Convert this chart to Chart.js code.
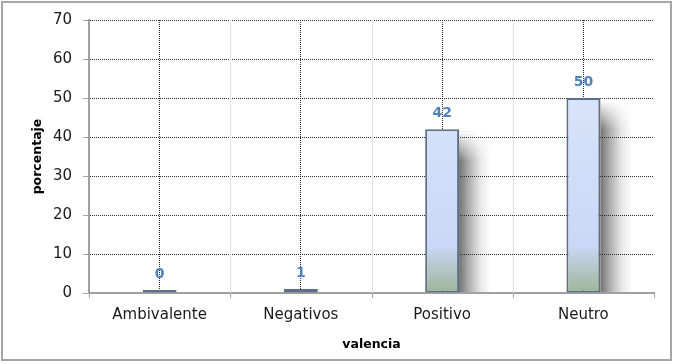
<!DOCTYPE html>
<html>
<head>
<meta charset="utf-8">
<script src="https://cdn.jsdelivr.net/npm/chart.js@4.4.1/dist/chart.umd.min.js"></script>
<style>
  html, body { margin: 0; padding: 0; background: #fff; }
  #wrap { width: 676px; height: 364px; }
</style>
</head>
<body>
<div id="wrap"><canvas id="valencia"></canvas></div>
<script>
// data
const categories = ["Ambivalente", "Negativos", "Positivo", "Neutro"];
const porcentaje = [0.4, 1, 42, 50];
const yTicks = [0, 10, 20, 30, 40, 50, 60, 70];

// frame, bar shadows, boundary lines, bottom tick marks, value labels
const frame = {
    id: 'frame',
    beforeDraw(chart) {
        const ctx = chart.ctx;
        const area = chart.chartArea;
        ctx.save();
        ctx.fillStyle = '#ffffff';
        ctx.fillRect(0, 0, chart.width, chart.height);
        ctx.strokeStyle = '#a6a6a6';
        ctx.lineWidth = 2;
        ctx.strokeRect(2, 2, 669, 358);

        // soft shadow to the right of each bar (under the grid)
        const meta = chart.getDatasetMeta(0);
        meta.data.forEach((bar) => {
            const right = bar.x + bar.width / 2;
            const top = bar.y + 2;
            const h = area.bottom - top;
            if (h < 20) return;
            const w = 32;
            const gx = ctx.createLinearGradient(right, 0, right + w, 0);
            gx.addColorStop(0, 'rgba(0,0,0,0.55)');
            gx.addColorStop(0.3, 'rgba(0,0,0,0.32)');
            gx.addColorStop(0.65, 'rgba(0,0,0,0.1)');
            gx.addColorStop(1, 'rgba(0,0,0,0)');
            ctx.fillStyle = gx;
            ctx.fillRect(right, top, w, h);
            const gy = ctx.createLinearGradient(0, top, 0, top + 30);
            gy.addColorStop(0, 'rgba(255,255,255,1)');
            gy.addColorStop(1, 'rgba(255,255,255,0)');
            ctx.fillStyle = gy;
            ctx.fillRect(right, top, w, 30);
        });
        ctx.restore();
    },
    beforeDatasetsDraw(chart) {
        const ctx = chart.ctx;
        const x = chart.scales.x;
        const area = chart.chartArea;
        ctx.save();
        for (let i = 0; i <= categories.length; i++) {
            const px = Math.round(x.getPixelForValue(i - 0.5)) + 0.5;
            if (i > 0 && i < categories.length) {
                ctx.strokeStyle = '#dce6f2';
                ctx.lineWidth = 1;
                ctx.beginPath();
                ctx.moveTo(px, area.top);
                ctx.lineTo(px, area.bottom);
                ctx.stroke();
            }
            ctx.strokeStyle = '#a0a0a0';
            ctx.lineWidth = 1;
            ctx.beginPath();
            ctx.moveTo(px, area.bottom);
            ctx.lineTo(px, area.bottom + 5);
            ctx.stroke();
        }
        ctx.restore();
    },
    afterDatasetsDraw(chart) {
        const ctx = chart.ctx;
        const meta = chart.getDatasetMeta(0);
        ctx.save();
        ctx.font = 'bold 14px "DejaVu Sans", sans-serif';
        ctx.fillStyle = '#4f81bd';
        ctx.textAlign = 'center';
        ctx.textBaseline = 'middle';
        meta.data.forEach((bar, i) => {
            ctx.fillText(Math.round(porcentaje[i]).toString(), bar.x, bar.y - 16);
        });
        ctx.restore();
    }
};

function barFill(context) {
    const chart = context.chart;
    const area = chart.chartArea;
    if (!area) return '#dce6fa';
    const y = chart.scales.y;
    const g = chart.ctx.createLinearGradient(0, area.bottom, 0, area.top);
    const p = (area.bottom - y.getPixelForValue(12)) / (area.bottom - area.top);
    g.addColorStop(0, '#9db595');
    g.addColorStop(p, '#c8d8f6');
    g.addColorStop(1, '#dfe9fc');
    return g;
}

let ctxV = document.getElementById('valencia').getContext('2d');
new Chart(ctxV, {
    type: 'bar',
    data: {
        labels: categories,
        datasets: [
            {
                data: porcentaje,
                backgroundColor: barFill,
                borderColor: '#5d6f88',
                borderWidth: 2,
                borderSkipped: false,
                minBarLength: 3,
                categoryPercentage: 1,
                barPercentage: 0.24,
            }
        ],
    },
    plugins: [frame],
    options: {
        responsive: true,
        maintainAspectRatio: false,
        animation: false,
        layout: {
            padding: { top: 19, right: 22, bottom: 12, left: 30 }
        },
        plugins: {
            legend: { display: false },
            tooltip: { enabled: false }
        },
        scales: {
            x: {
                afterFit(scale) { scale.height = 59; },
                grid: {
                    offset: false,
                    drawTicks: false,
                    color: '#2a2a2a',
                    lineWidth: 1,
                },
                border: { display: true, color: '#a0a0a0', width: 2, dash: [1, 1] },
                ticks: {
                    padding: 13,
                    color: '#1a1a1a',
                    font: { family: '"DejaVu Sans", sans-serif', size: 15 },
                },
                title: {
                    display: true,
                    text: 'valencia',
                    color: '#000000',
                    padding: { top: 0, bottom: 0 },
                    font: { family: '"DejaVu Sans", sans-serif', size: 12.5, weight: 'bold' },
                }
            },
            y: {
                min: 0,
                max: 70,
                afterFit(scale) { scale.width = 59; },
                afterBuildTicks(scale) { scale.ticks = yTicks.map(v => ({ value: v })); },
                grid: {
                    color: (c) => c.tick && c.tick.value === 0 ? 'rgba(0,0,0,0)' : '#2a2a2a',
                    lineWidth: 1,
                    tickColor: '#a0a0a0',
                    tickLength: 6,
                },
                border: { display: true, color: '#a0a0a0', width: 2, dash: [1, 1] },
                ticks: {
                    padding: 11,
                    color: '#1a1a1a',
                    font: { family: '"DejaVu Sans", sans-serif', size: 15 },
                },
                title: {
                    display: true,
                    text: 'porcentaje',
                    color: '#000000',
                    padding: { top: 0, bottom: 0 },
                    font: { family: '"DejaVu Sans", sans-serif', size: 12.5, weight: 'bold' },
                }
            }
        }
    }
});
</script>
</body>
</html>
